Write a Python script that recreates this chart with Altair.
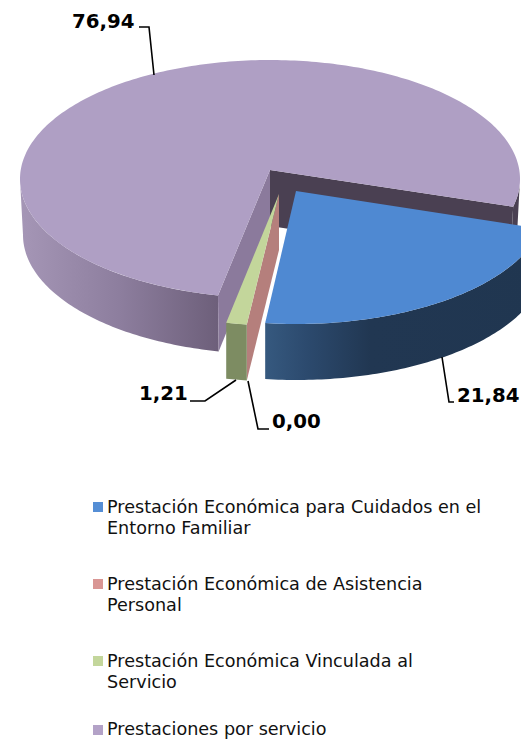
import math
import altair as alt
import pandas as pd

# ---- data
categories = ["Prestación Económica para Cuidados en el Entorno Familiar",
              "Prestación Económica de Asistencia Personal",
              "Prestación Económica Vinculada al Servicio",
              "Prestaciones por servicio"]
values = [21.84, 0.00, 1.21, 76.94]
legend_lines = [["Prestación Económica para Cuidados en el", "Entorno Familiar"],
                ["Prestación Económica de Asistencia", "Personal"],
                ["Prestación Económica Vinculada al", "Servicio"],
                ["Prestaciones por servicio"]]
legend_colors = ["#558ED5", "#D99694", "#C3D69B", "#B3A2C7"]
legend_square_y = [507, 584, 661, 730]
legend_line_y = [[513, 534], [590, 611], [667, 688], [735]]

# ---- 3-D pie layout (image pixels)
start_deg = [11.5, 97.4, 97.4, 102.0]       # where each slice begins on its rim
stretch = [1.0885, 1.0, 1.10, 0.98]         # perspective widening of a slice
apex = [(296, 191), (279, 194), (279, 194), (270, 170)]
center = [(296, 205), (279, 206.5), (279, 206.5), (270, 179)]
RX, RY, RX_LOW, DEPTH = 250, 119, 247, 56

W, H = 513, 731
xs = alt.Scale(domain=[8, 8 + W], range=[0, W], nice=False, zero=False)
ys = alt.Scale(domain=[8, 8 + H], range=[0, H], nice=False, zero=False)


def rim(i, t, low=False):
    a = math.radians(t)
    rx = RX_LOW if low else RX
    return (center[i][0] + rx * math.cos(a),
            center[i][1] + RY * math.sin(a) + (DEPTH if low else 0))


def span(i):
    return start_deg[i], start_deg[i] + values[i] * 3.6 * stretch[i]


def arc(i, t0, t1, low=False):
    n = max(2, int(abs(t1 - t0)) + 2)
    return [rim(i, t0 + (t1 - t0) * k / (n - 1), low) for k in range(n)]


def poly(points, fill, clip=False):
    df = pd.DataFrame({"px": [p[0] for p in points], "py": [p[1] for p in points],
                       "k": list(range(len(points)))})
    return alt.Chart(df).mark_line(fill=fill, strokeWidth=0, clip=clip, interpolate="linear").encode(
        x=alt.X("px:Q", scale=xs, axis=None),
        y=alt.Y("py:Q", scale=ys, axis=None),
        order="k:Q")


def grad(*stops):
    return alt.Gradient(gradient="linear", x1=0, x2=1, y1=0, y2=0,
                        stops=[alt.GradientStop(offset=o, color=c) for o, c in stops])


def down(p):
    return (p[0], p[1] + DEPTH)


layers = []

# purple slice
t0, t1 = span(3)
ap = apex[3]
layers.append(poly(arc(3, t0, 180) + arc(3, 180, t0, True),
                   grad((0, "#A596B6"), (0.5, "#8D7E9E"), (1, "#6D5F7A"))))
layers.append(poly(arc(3, 360, t1) + arc(3, t1, 360, True), "#4A4052"))
layers.append(poly([ap, rim(3, t1), rim(3, t1, True), down(ap)], "#4A4052"))
layers.append(poly([ap, rim(3, t0), rim(3, t0, True), down(ap)], "#8B7A9C"))
layers.append(poly([ap] + arc(3, t0, t1), "#AF9FC4"))

# zero slice: only its cut wall shows
t0, _ = span(1)
ap = apex[1]
layers.append(poly([ap, rim(1, t0), down(rim(1, t0)), down(ap)], "#B57F7C"))

# green slice
t0, t1 = span(2)
ap = apex[2]
layers.append(poly([rim(2, t0), rim(2, t1), down(rim(2, t1)), down(rim(2, t0))], "#7D8C62"))
layers.append(poly([ap] + arc(2, t0, t1), "#C3D69B"))

# blue slice
t0, t1 = span(0)
ap = apex[0]
layers.append(poly(arc(0, t0, t1) + [down(p) for p in arc(0, t1, t0)],
                   grad((0, "#36597F"), (0.15, "#2C4A6E"), (0.38, "#213752"), (1, "#203650")), clip=True))
layers.append(poly([ap] + arc(0, t0, t1), "#4F89D2", clip=True))

# ---- leader lines
leaders = [[(139, 27), (149, 27), (154, 75)],
           [(442, 357), (449, 402), (454, 402)],
           [(190, 401), (205, 401), (236, 380)],
           [(248, 381), (258, 429), (269, 429)]]
order_labels = [3, 0, 2, 1]
for pts in leaders:
    df = pd.DataFrame({"px": [p[0] for p in pts], "py": [p[1] for p in pts], "k": [0, 1, 2]})
    layers.append(alt.Chart(df).mark_line(color="black", strokeWidth=1.6).encode(
        x=alt.X("px:Q", scale=xs, axis=None), y=alt.Y("py:Q", scale=ys, axis=None), order="k:Q"))

# ---- value labels
label_pos = [(72, 28), (457, 402), (139, 400), (272, 428)]
lab = pd.DataFrame({"px": [p[0] for p in label_pos], "py": [p[1] for p in label_pos],
                    "t": [f"{values[i]:.2f}".replace(".", ",") for i in order_labels]})
layers.append(alt.Chart(lab).mark_text(align="left", baseline="alphabetic", font="DejaVu Sans",
                                       fontWeight="bold", fontSize=19.8, color="black").encode(
    x=alt.X("px:Q", scale=xs, axis=None), y=alt.Y("py:Q", scale=ys, axis=None), text="t:N"))

# ---- legend
sq = pd.DataFrame({"px": [98] * 4, "py": legend_square_y, "c": categories})
layers.append(alt.Chart(sq).mark_square(size=100, opacity=1, filled=True).encode(
    x=alt.X("px:Q", scale=xs, axis=None), y=alt.Y("py:Q", scale=ys, axis=None),
    color=alt.Color("c:N", scale=alt.Scale(domain=categories, range=legend_colors), legend=None)))
rows = [{"px": 107, "py": y, "t": t}
        for ls, yy in zip(legend_lines, legend_line_y) for t, y in zip(ls, yy)]
layers.append(alt.Chart(pd.DataFrame(rows)).mark_text(align="left", baseline="alphabetic",
                                                      font="DejaVu Sans", fontSize=17.6, color="#111111").encode(
    x=alt.X("px:Q", scale=xs, axis=None), y=alt.Y("py:Q", scale=ys, axis=None), text="t:N"))

chart = alt.layer(*layers).properties(width=W, height=H, padding=0, autosize=alt.AutoSizeParams(type="none")
                                      ).configure_view(stroke=None)
chart.save("out.html", embed_options={"renderer": "svg", "actions": False})
